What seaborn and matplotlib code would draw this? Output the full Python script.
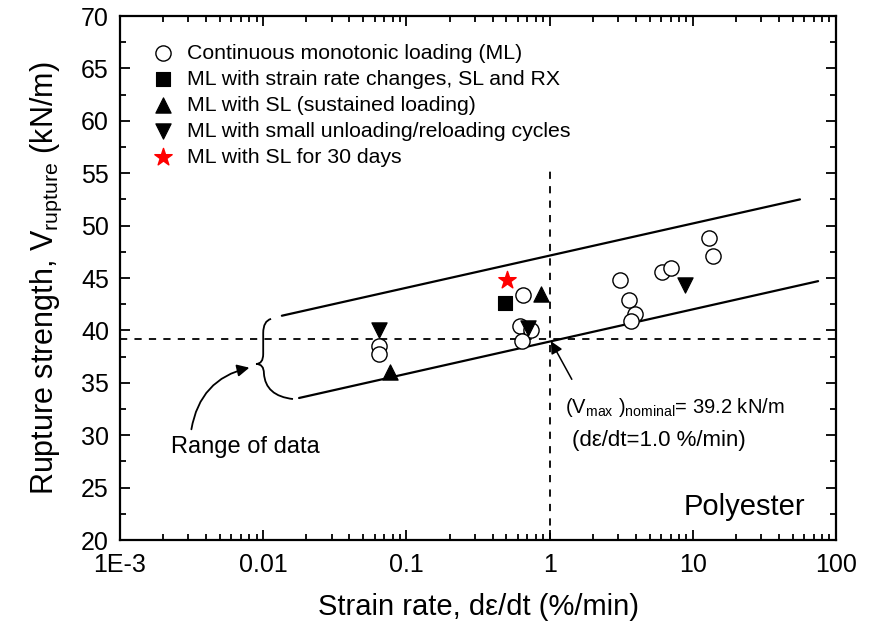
import numpy as np
import pandas as pd
import matplotlib
matplotlib.use('Agg')
import matplotlib.pyplot as plt
from matplotlib.path import Path
from matplotlib.patches import PathPatch
from matplotlib.ticker import LogLocator, MultipleLocator, NullFormatter
import seaborn as sns

# Data
ml_rate = [0.0644, 0.0644, 0.652, 0.621, 0.741, 0.642, 3.10, 3.58, 3.95, 3.70, 6.1, 7.05, 13.0, 13.8]
ml_strength = [38.5, 37.75, 43.4, 40.4, 40.0, 39.0, 44.8, 42.9, 41.6, 40.9, 45.6, 46.0, 48.8, 47.1]

rx_rate = [0.489]
rx_strength = [42.6]

sl_rate = [0.871, 0.0768]
sl_strength = [43.5, 36.0]

ur_rate = [0.0644, 0.706, 8.83]
ur_strength = [40.0, 40.2, 44.3]

sl30_rate = [0.505]
sl30_strength = [44.8]

upper_rate = [0.0135, 56]
upper_strength = [41.4, 52.5]
lower_rate = [0.0178, 75]
lower_strength = [33.55, 44.7]

nominal_strength = 39.2
x_ticks = [1e-3, 1e-2, 1e-1, 1, 10, 100]
x_tick_labels = ['1E-3', '0.01', '0.1', '1', '10', '100']

sns.set_style('ticks')
plt.rcParams['font.family'] = ['Liberation Sans', 'DejaVu Sans']
plt.rcParams['mathtext.fontset'] = 'custom'
plt.rcParams['mathtext.rm'] = 'Liberation Sans'
plt.rcParams['mathtext.it'] = 'Liberation Sans'
for key in ['text.color', 'axes.labelcolor', 'xtick.color', 'ytick.color', 'axes.edgecolor']:
    plt.rcParams[key] = 'black'

fig = plt.figure(figsize=(8.69, 6.26), dpi=100)
ax = fig.add_axes([120 / 869, 1 - 540 / 626, 716 / 869, 524 / 626])

# boundary lines and reference lines
ax.plot(upper_rate, upper_strength, color='black', lw=1.6)
ax.plot(lower_rate, lower_strength, color='black', lw=1.6)
ax.axhline(nominal_strength, color='black', lw=1.3, ls=(0, (4, 4)))
ax.plot([1, 1], [20, 55.2], color='black', lw=1.3, ls=(0, (4, 4)))

ms = 120
sns.scatterplot(x=ml_rate, y=ml_strength, ax=ax, marker='o', s=ms, facecolor='white',
                edgecolor='black', linewidth=1.0, label='Continuous monotonic loading (ML)', zorder=3)
sns.scatterplot(x=rx_rate, y=rx_strength, ax=ax, marker='s', s=100, color='black',
                edgecolor='black', label='ML with strain rate changes, SL and RX', zorder=3)
sns.scatterplot(x=sl_rate, y=sl_strength, ax=ax, marker='^', s=ms, color='black',
                edgecolor='black', label='ML with SL (sustained loading)', zorder=3)
sns.scatterplot(x=ur_rate, y=ur_strength, ax=ax, marker='v', s=ms, color='black',
                edgecolor='black', label='ML with small unloading/reloading cycles', zorder=3)
sns.scatterplot(x=sl30_rate, y=sl30_strength, ax=ax, marker='*', s=170, color='red',
                edgecolor='red', label='ML with SL for 30 days', zorder=3)

ax.set_xscale('log')
ax.set_xlim(1e-3, 100)
ax.set_ylim(20, 70)
ax.set_xticks(x_ticks)
ax.set_xticklabels(x_tick_labels)
ax.xaxis.set_minor_locator(LogLocator(base=10, subs=np.arange(2, 10), numticks=20))
ax.xaxis.set_minor_formatter(NullFormatter())
ax.yaxis.set_major_locator(MultipleLocator(5))
ax.yaxis.set_minor_locator(MultipleLocator(2.5))
ax.tick_params(which='both', direction='in', top=True, right=True, width=1.3)
ax.tick_params(which='major', length=7, labelsize=18)
ax.tick_params(axis='x', which='major', pad=9)
ax.tick_params(axis='y', which='major', pad=8)
ax.tick_params(which='minor', length=4)
for s in ax.spines.values():
    s.set_linewidth(1.6)

ax.set_xlabel('Strain rate, d\u03b5/dt (%/min)', fontsize=21, labelpad=12)
ax.set_ylabel(r'Rupture strength, V$_{\rm rupture}$ (kN/m)', fontsize=22, labelpad=12)

ax.legend(loc='upper left', bbox_to_anchor=(0.022, 0.975), frameon=False, fontsize=15.3,
          handletextpad=0.5, labelspacing=0.33, borderaxespad=0.3, handlelength=1.2)

# curly brace for range of data
verts = [(0.211, 0.422), (0.200, 0.418), (0.200, 0.395), (0.200, 0.355),
         (0.200, 0.336), (0.190, 0.336), (0.201, 0.336), (0.201, 0.318),
         (0.203, 0.275), (0.2416, 0.269)]
codes = [Path.MOVETO, Path.CURVE3, Path.CURVE3, Path.LINETO,
         Path.CURVE3, Path.CURVE3, Path.CURVE3, Path.CURVE3,
         Path.CURVE3, Path.CURVE3]
ax.add_patch(PathPatch(Path(verts, codes), transform=ax.transAxes, fill=False,
                       edgecolor='black', lw=1.3))

ax.annotate('', xy=(0.00836, 36.5), xytext=(0.00313, 30.3),
            arrowprops=dict(arrowstyle='-|>', color='black', lw=1.3,
                            connectionstyle='arc3,rad=-0.35', mutation_scale=18))
ax.text(0.00746, 28.9, 'Range of data', fontsize=17, ha='center', va='center')

ax.annotate('', xy=(1.0, 39.2), xytext=(1.46, 35.1),
            arrowprops=dict(arrowstyle='-|>', color='black', lw=1.1, mutation_scale=18))
ax.text(1.28, 32.6, r'(V$_{\rm max}$ )$_{\rm nominal}$= 39.2 kN/m', fontsize=14.5,
        ha='left', va='center')
ax.text(1.43, 29.5, '(d\u03b5/dt=1.0 %/min)', fontsize=16, ha='left', va='center')

ax.text(0.957, 0.063, 'Polyester', transform=ax.transAxes, fontsize=21,
        ha='right', va='center')

fig.savefig('out.png', dpi=100)
